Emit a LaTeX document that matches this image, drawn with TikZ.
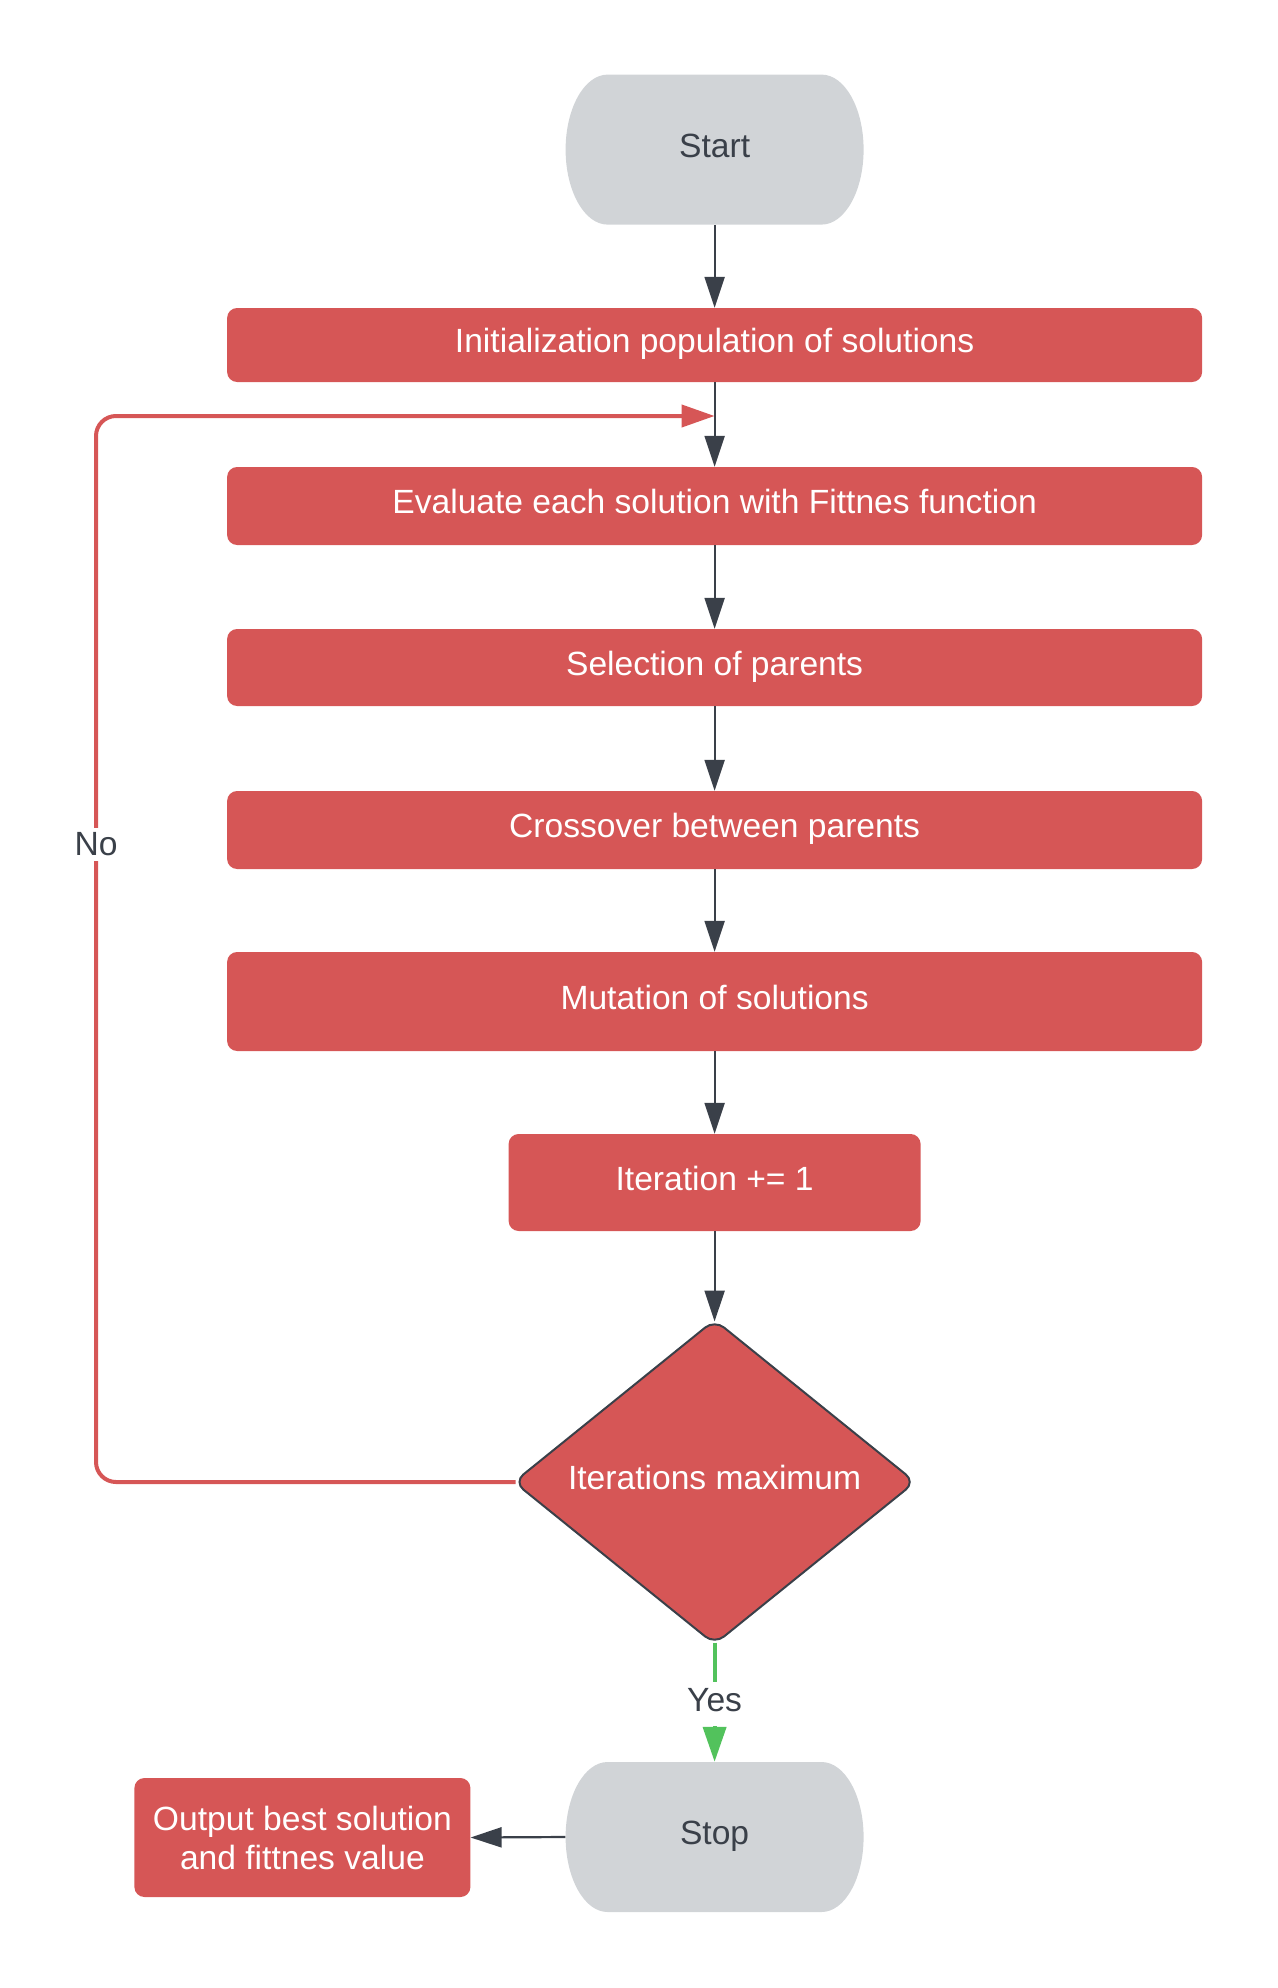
\documentclass[tikz,border=0pt]{standalone}
\usepackage{fontspec}
\setmainfont{Liberation Sans}
\usetikzlibrary{shapes.geometric,arrows.meta,backgrounds,calc}

\definecolor{boxred}{HTML}{D65656}
\definecolor{termgray}{HTML}{D1D4D7}
\definecolor{ink}{HTML}{3A4049}
\definecolor{yesgreen}{HTML}{52C25C}

\tikzset{
  base/.style={font=\fontsize{33.6}{39}\selectfont, inner sep=0pt, align=center},
  oneline/.style={text height=24.5pt, text depth=9.5pt},
  procbox/.style={base, fill=boxred, text=white, rounded corners=10pt},
  widebox/.style={procbox, oneline, minimum width=975pt, minimum height=#1},
  term/.style={base, oneline, text=ink, minimum width=298pt, minimum height=150pt},
  decision/.style={base, oneline, diamond, aspect=1.24, fill=boxred, draw=ink, line width=2pt,
    text=white, rounded corners=12pt, minimum width=402pt, minimum height=325pt},
  arr/.style={draw=ink, line width=2.2pt, -{Triangle[length=31pt,width=20pt]}},
  loopline/.style={draw=boxred, line width=4pt, rounded corners=20pt,
    -{Triangle[length=33pt,width=22pt]}},
  yesline/.style={draw=yesgreen, line width=4pt, -{Triangle[length=35pt,width=23pt]}},
  lbl/.style={base, text=ink, fill=white, inner sep=5pt},
}

% grey terminator outline with elliptical ends, centred on a node
\newcommand\termfill[1]{%
  \begin{scope}[on background layer, shift={(#1.center)}]
    \fill[termgray] (-107,-75) .. controls (-130.2,-75) and (-149,-41.4) .. (-149,0)
      .. controls (-149,41.4) and (-130.2,75) .. (-107,75) -- (107,75)
      .. controls (130.2,75) and (149,41.4) .. (149,0)
      .. controls (149,-41.4) and (130.2,-75) .. (107,-75) -- cycle;
  \end{scope}}

\begin{document}
\begin{tikzpicture}[x=1pt, y=-1pt]
  \useasboundingbox (0,0) rectangle (1277,1988);

  \node[term] (start) at (714.6,149.6) {Start};
  \termfill{start}

  \node[widebox=74pt]  (init)  at (714.6,345)    {Initialization population of solutions};
  \node[widebox=78pt]  (eval)  at (714.6,506)    {Evaluate each solution with Fittnes function};
  \node[widebox=77pt]  (sel)   at (714.6,667.5)  {Selection of parents};
  \node[widebox=78pt]  (cross) at (714.6,830)    {Crossover between parents};
  \node[widebox=99pt]  (mut)   at (714.6,1001.5) {Mutation of solutions};
  \node[procbox, oneline, minimum width=412pt, minimum height=97pt] (iter) at (714.6,1182.5) {Iteration += 1};
  \node[decision] (dec) at (714.6,1482) {Iterations maximum};

  \node[term] (stop) at (714.6,1837) {Stop};
  \termfill{stop}
  \node[procbox, minimum width=336pt, minimum height=119pt] (out) at (302.4,1837.5)
    {Output best solution\\and fittnes value};

  % main flow
  \draw[arr] (start.south) -- (init.north);
  \draw[arr] (init.south) -- (eval.north);
  \draw[arr] (eval.south) -- (sel.north);
  \draw[arr] (sel.south) -- (cross.north);
  \draw[arr] (cross.south) -- (mut.north);
  \draw[arr] (mut.south) -- (iter.north);
  \draw[arr, shorten >=-3pt] (iter.south) -- (dec.north);

  % loop back when the maximum is not reached
  \coordinate (join) at (714.6,416);
  \coordinate (bend) at (96,416);
  \draw[loopline, shorten <=-3pt] (dec.west) -| (bend) -- (join);
  \node[lbl] (no) at (96,844.5) {No};

  % finish
  \draw[yesline, shorten <=-3pt] (dec.south) -- node[lbl, oneline] (yes) {Yes} (stop.north);
  \draw[arr] (stop.west) -- (out.east);
\end{tikzpicture}
\end{document}
